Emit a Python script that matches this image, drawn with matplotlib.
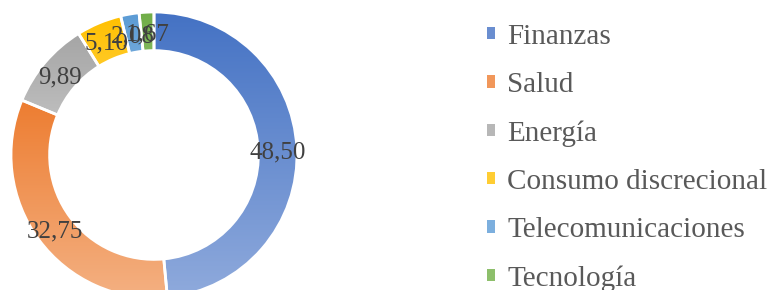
import numpy as np
import matplotlib
matplotlib.use("Agg")
import matplotlib.pyplot as plt
from matplotlib.colors import LinearSegmentedColormap, to_rgb
from matplotlib.patches import Rectangle

plt.rcParams["font.family"] = ["Liberation Serif", "DejaVu Serif"]

# datos
sectores = ["Finanzas", "Salud", "Energía", "Consumo discrecional",
            "Telecomunicaciones", "Tecnología"]
valores = [48.50, 32.75, 9.89, 5.10, 2.08, 1.67]
color_arriba = ["#4472C4", "#ED7D31", "#A5A5A5", "#FFC000", "#5B9BD5", "#70AD47"]
color_abajo = ["#8FAADC", "#F4B183", "#C9C9C9", "#FFD966", "#9DC3E6", "#A9D18E"]

fig = plt.figure(figsize=(7.71, 2.90), dpi=100)
ax = fig.add_axes([11 / 771, -8 / 290, 286 / 771, 286 / 290])

wedges, _ = ax.pie(valores, startangle=90, counterclock=False, radius=1.0,
                   wedgeprops=dict(width=0.27, edgecolor="none"))

# relleno degradado vertical en cada sector
for w, c1, c2 in zip(wedges, color_arriba, color_abajo):
    verts = w.get_path().vertices
    x0, x1 = verts[:, 0].min(), verts[:, 0].max()
    y0, y1 = verts[:, 1].min(), verts[:, 1].max()
    cmap = LinearSegmentedColormap.from_list("g", [c1, c2])
    grad = np.linspace(0, 1, 256).reshape(-1, 1)
    im = ax.imshow(grad, cmap=cmap, extent=[x0, x1, y0, y1], origin="upper",
                   aspect="auto", zorder=1, interpolation="bilinear")
    im.set_clip_path(w)
    w.set_facecolor("none")
    w.set_edgecolor("white")
    w.set_linewidth(2.0)
    w.set_zorder(2)

# etiquetas de datos
r_lab = 1.0 - 0.27 / 2
for w, v in zip(wedges, valores):
    ang = np.deg2rad((w.theta1 + w.theta2) / 2)
    ax.text(r_lab * np.cos(ang), r_lab * np.sin(ang) - 0.02, f"{v:.2f}".replace(".", ","),
            ha="center", va="center", fontsize=18, color="#404040", zorder=3)

ax.set_xlim(-1, 1)
ax.set_ylim(-1, 1)
ax.set_aspect("equal")
ax.axis("off")

# leyenda (color intermedio del degradado)
handles = []
for c1, c2 in zip(color_arriba, color_abajo):
    mid = [(a + b) / 2 for a, b in zip(to_rgb(c1), to_rgb(c2))]
    handles.append(Rectangle((0, 0), 1, 1, facecolor=mid, edgecolor="none"))
leg = fig.legend(handles, sectores, loc="upper left", bbox_to_anchor=(487 / 771, 0.918),
                 frameon=False, fontsize=21, labelcolor="#595959",
                 borderpad=0, borderaxespad=0,
                 handlelength=0.28, handleheight=0.28, handletextpad=0.42,
                 labelspacing=0.76)

fig.savefig("out.png", dpi=100)
